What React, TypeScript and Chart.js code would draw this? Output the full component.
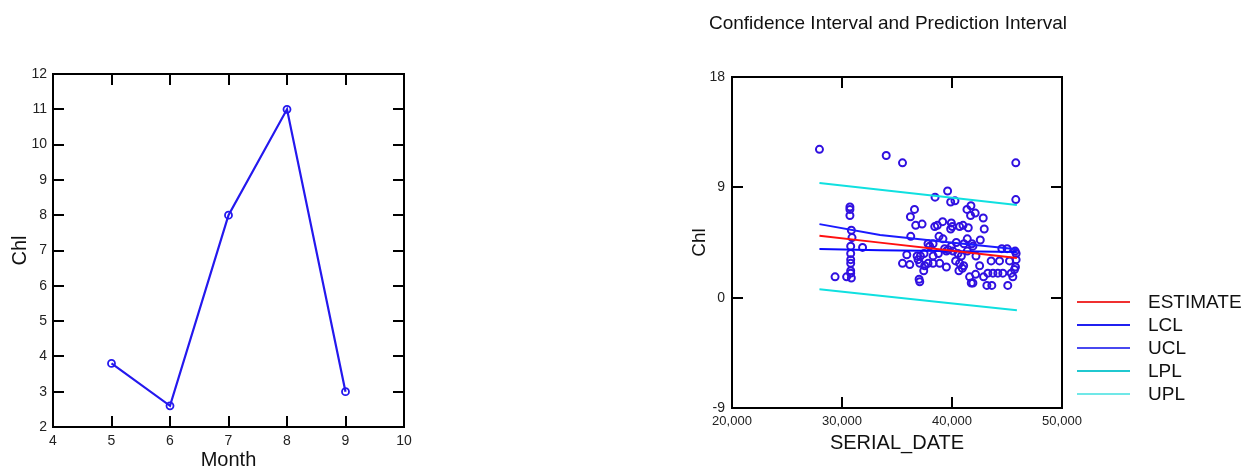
import React, { useEffect, useRef } from 'react';
import { Chart, registerables } from 'chart.js';
Chart.register(...registerables);

// ---- Left chart: Chl by Month ----
const months = [5, 6, 7, 8, 9];
const monthChl = [3.8, 2.6, 8.0, 11.0, 3.0];

// ---- Right chart: Chl vs SERIAL_DATE ----
const serialDates = [
  27950, 34020, 35500, 45800, 45800, 39600, 38460, 39880, 40270, 41360,
  41720, 41690, 42110, 42840, 42930, 36220, 36590, 36250, 36700, 37280,
  38430, 38670, 39150, 39940, 39880, 40030, 40690, 41000, 41480, 38820,
  39180, 41390, 41810, 42570, 37820, 38280, 40390, 41090, 44530, 45010,
  45740, 35890, 36830, 37130, 37460, 38280, 38760, 39490, 39670, 40090,
  40540, 40850, 41390, 42180, 35500, 36160, 36920, 37070, 37520, 37820,
  38280, 38880, 39490, 40330, 40690, 41060, 42510, 43560, 44320, 45230,
  45770, 37430, 40630, 40940, 41600, 41900, 42140, 42870, 43260, 43720,
  44170, 44620, 45380, 45530, 37010, 37070, 41750, 43170, 43620, 45070,
  30720, 30720, 30720, 30850, 30910, 30790, 30790, 30790, 30790, 30790,
  30790, 30850, 30420, 29370, 31870, 37970, 39330, 39940, 41900, 45830,
  45680, 45830,
];
const chlValues = [
  12.1, 11.6, 11.0, 11.0, 8.0, 8.7, 8.2, 7.8, 7.9, 7.2,
  7.5, 6.7, 6.9, 6.5, 5.6, 6.6, 7.2, 5.0, 5.9, 6.0,
  5.8, 5.9, 6.2, 6.1, 5.6, 5.8, 5.8, 5.9, 5.7, 5.0,
  4.8, 4.8, 4.4, 4.7, 4.4, 4.4, 4.5, 4.4, 4.0, 4.0,
  3.8, 3.5, 3.4, 3.4, 3.6, 3.4, 3.6, 3.8, 3.9, 3.8,
  3.6, 3.4, 3.8, 3.4, 2.8, 2.7, 3.1, 2.8, 2.6, 2.8,
  2.8, 2.8, 2.5, 3.0, 2.8, 2.6, 2.6, 3.0, 3.0, 3.0,
  2.5, 2.2, 2.2, 2.4, 1.7, 1.2, 1.9, 1.7, 2.0, 2.0,
  2.0, 2.0, 2.0, 1.7, 1.5, 1.3, 1.2, 1.0, 1.0, 1.0,
  7.4, 7.2, 6.7, 5.5, 4.9, 4.2, 3.6, 3.1, 2.8, 2.2,
  2.0, 1.6, 1.7, 1.7, 4.1, 4.2, 4.0, 4.2, 4.2, 3.6,
  2.3, 3.1,
];

const fitDates = [27950, 33460, 39000, 45900];
const estimate = [5.05, 4.49, 3.93, 3.23];
const lcl = [3.97, 3.87, 3.8, 3.73];
const ucl = [6.0, 5.11, 4.58, 3.95];
const lpl = [0.68, 0.15, -0.37, -1.03];
const upl = [9.35, 8.8, 8.25, 7.56];

const legendLabels = ['ESTIMATE', 'LCL', 'UCL', 'LPL', 'UPL'];
const legendColors = ['#f03030', '#2020f0', '#4848f0', '#20c8d0', '#70e8e8'];

const chartTitle = 'Confidence Interval and Prediction Interval';

const FONT = '"Liberation Sans", Arial, sans-serif';

const frameTicks = {
  id: 'frameTicks',
  afterDatasetsDraw(chart: any) {
    const { ctx, chartArea: a } = chart;
    const xs = chart.scales.x;
    const ys = chart.scales.y;
    const len = 11;
    ctx.save();
    ctx.strokeStyle = '#000';
    ctx.lineWidth = 2;
    ctx.beginPath();
    xs.ticks.forEach((t: any) => {
      const p = Math.round(xs.getPixelForValue(t.value));
      if (p <= a.left + 1 || p >= a.right - 1) return;
      ctx.moveTo(p, a.bottom);
      ctx.lineTo(p, a.bottom - len);
      ctx.moveTo(p, a.top);
      ctx.lineTo(p, a.top + len);
    });
    ys.ticks.forEach((t: any) => {
      const p = Math.round(ys.getPixelForValue(t.value));
      if (p <= a.top + 1 || p >= a.bottom - 1) return;
      ctx.moveTo(a.left, p);
      ctx.lineTo(a.left + len, p);
      ctx.moveTo(a.right, p);
      ctx.lineTo(a.right - len, p);
    });
    ctx.stroke();
    ctx.strokeRect(a.left, a.top, a.right - a.left, a.bottom - a.top);
    ctx.restore();
  },
};

function LeftChart() {
  const ref = useRef<HTMLCanvasElement>(null);
  useEffect(() => {
    const chart = new Chart(ref.current as HTMLCanvasElement, {
      type: 'scatter',
      data: {
        datasets: [
          {
            data: months.map((m, i) => ({ x: m, y: monthChl[i] })),
            showLine: true,
            borderColor: '#2418ee',
            borderWidth: 2.2,
            pointRadius: 3.5,
            pointBorderWidth: 1.8,
            pointBorderColor: '#2418ee',
            pointBackgroundColor: 'rgba(255,255,255,0)',
          },
        ],
      },
      options: {
        animation: false,
        responsive: false,
        events: [],
        layout: { padding: { left: 0, right: 36, top: 74, bottom: 0 } },
        plugins: { legend: { display: false }, tooltip: { enabled: false } },
        scales: {
          x: {
            type: 'linear',
            min: 4,
            max: 10,
            grid: { display: false, drawTicks: false },
            border: { display: false },
            ticks: { stepSize: 1, padding: 6, color: '#222', font: { family: FONT, size: 14 } },
            title: { display: true, text: 'Month', color: '#111', padding: { top: 0, bottom: 0 }, font: { family: FONT, size: 20 } },
            afterFit: (s: any) => { s.height = 45; },
          },
          y: {
            type: 'linear',
            min: 2,
            max: 12,
            grid: { display: false, drawTicks: false },
            border: { display: false },
            ticks: { stepSize: 1, padding: 6, color: '#222', font: { family: FONT, size: 14 } },
            title: { display: true, text: 'Chl', color: '#111', padding: { top: 8, bottom: 0 }, font: { family: FONT, size: 20 } },
            afterFit: (s: any) => { s.width = 53; },
          },
        },
      },
      plugins: [frameTicks],
    });
    return () => chart.destroy();
  }, []);
  return (
    <canvas
      ref={ref}
      width={440}
      height={472}
      style={{ position: 'absolute', left: 0, top: 0, width: 440, height: 472 }}
    />
  );
}

function RightChart() {
  const ref = useRef<HTMLCanvasElement>(null);
  useEffect(() => {
    const fit = (vals: number[]) => fitDates.map((d, i) => ({ x: d, y: vals[i] }));
    const lineDs = (vals: number[], color: string, width: number) => ({
      data: fit(vals),
      showLine: true,
      borderColor: color,
      borderWidth: width,
      pointRadius: 0,
    });
    const chart = new Chart(ref.current as HTMLCanvasElement, {
      type: 'scatter',
      data: {
        datasets: [
          lineDs(estimate, '#ff1010', 2),
          lineDs(lcl, '#0a0aff', 2),
          lineDs(ucl, '#1a1aff', 2),
          lineDs(lpl, '#10e0e0', 2),
          lineDs(upl, '#10e0e0', 2),
          {
            data: serialDates.map((d, i) => ({ x: d, y: chlValues[i] })),
            pointRadius: 3.5,
            pointBorderWidth: 2,
            pointBorderColor: '#3010e0',
            pointBackgroundColor: 'rgba(255,255,255,0)',
          },
        ] as any,
      },
      options: {
        animation: false,
        responsive: false,
        events: [],
        layout: { padding: { left: 0, right: 28, top: 77, bottom: 0 } },
        plugins: { legend: { display: false }, tooltip: { enabled: false } },
        scales: {
          x: {
            type: 'linear',
            min: 20000,
            max: 50000,
            grid: { display: false, drawTicks: false },
            border: { display: false },
            ticks: {
              stepSize: 10000,
              padding: 6,
              color: '#222',
              font: { family: FONT, size: 13 },
              callback: (v: any) => Number(v).toLocaleString('en-US'),
            },
            title: { display: true, text: 'SERIAL_DATE', color: '#111', padding: { top: 0, bottom: 17 }, font: { family: FONT, size: 20 } },
            afterFit: (s: any) => { s.height = 64; },
          },
          y: {
            type: 'linear',
            min: -9,
            max: 18,
            grid: { display: false, drawTicks: false },
            border: { display: false },
            ticks: { stepSize: 9, padding: 7, color: '#222', font: { family: FONT, size: 14 } },
            title: { display: true, text: 'Chl', color: '#111', padding: { top: 8, bottom: 0 }, font: { family: FONT, size: 19 } },
            afterFit: (s: any) => { s.width = 52; },
          },
        },
      },
      plugins: [frameTicks],
    });
    return () => chart.destroy();
  }, []);
  return (
    <canvas
      ref={ref}
      width={410}
      height={472}
      style={{ position: 'absolute', left: 680, top: 0, width: 410, height: 472 }}
    />
  );
}

export default function App() {
  return (
    <div
      style={{
        position: 'absolute',
        left: 0,
        top: 0,
        width: 1257,
        height: 472,
        background: '#fff',
        overflow: 'hidden',
        fontFamily: FONT,
      }}
    >
      <LeftChart />
      <RightChart />
      <div
        style={{
          position: 'absolute',
          left: 688,
          width: 400,
          top: 13,
          textAlign: 'center',
          fontSize: 19,
          lineHeight: '19px',
          color: '#111',
          whiteSpace: 'nowrap',
        }}
      >
        {chartTitle}
      </div>
      {legendLabels.map((label, i) => (
        <div
          key={label}
          style={{
            position: 'absolute',
            left: 1077,
            top: 290 + i * 23,
            height: 23,
            display: 'flex',
            alignItems: 'center',
            zIndex: 2,
          }}
        >
          <div style={{ width: 53, height: 2, background: legendColors[i] }} />
          <div
            style={{
              marginLeft: 18,
              fontSize: 19,
              lineHeight: '23px',
              color: '#111',
              whiteSpace: 'nowrap',
            }}
          >
            {label}
          </div>
        </div>
      ))}
    </div>
  );
}
